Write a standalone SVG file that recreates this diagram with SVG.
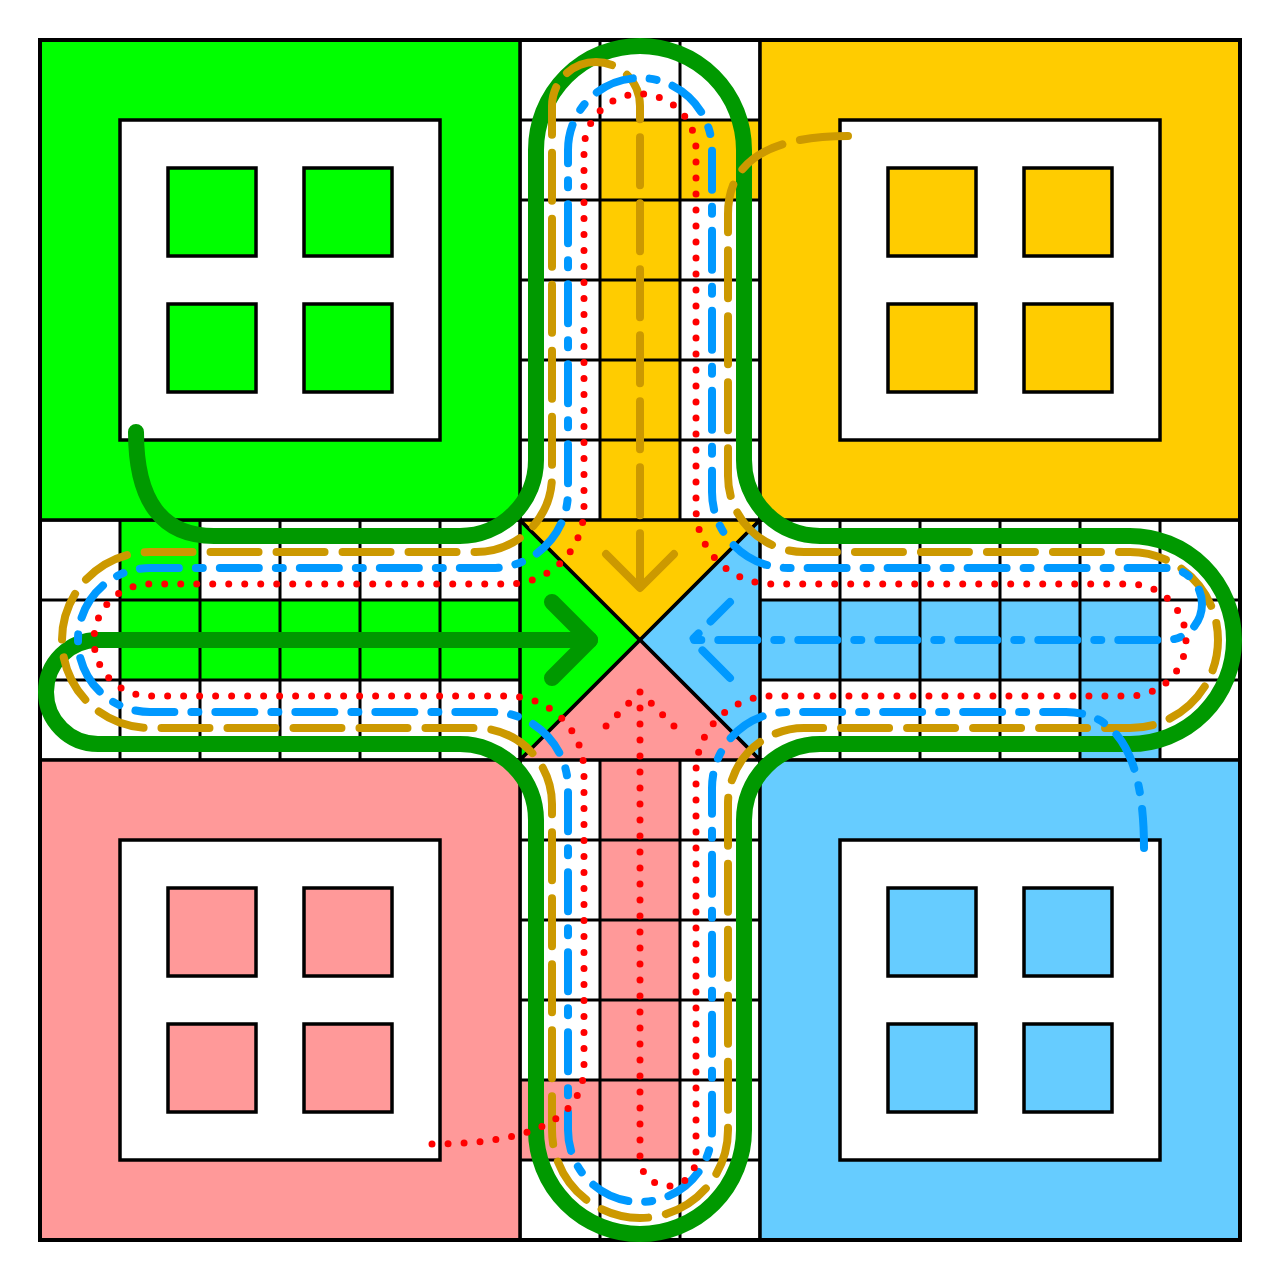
<svg xmlns="http://www.w3.org/2000/svg" width="1280" height="1280" viewBox="0 0 1280 1280">
<style>
.bd{stroke:#000;stroke-width:3.5;stroke-linejoin:miter}
.grid{fill:none;stroke:#000;stroke-width:3}
.g{fill:#00ff00}.y{fill:#ffcc00}.b{fill:#66ccff}.r{fill:#ff9999}.w{fill:#fff}
.p{fill:none;stroke-linecap:round;stroke-linejoin:round}
.pg{stroke:#009900;stroke-width:16}
.py{stroke:#cc9900;stroke-width:8;stroke-dasharray:48 18}
.pb{stroke:#0099ff;stroke-width:8;stroke-dasharray:39 17 7 17}
.pr{stroke:#ff0000;stroke-width:7;stroke-dasharray:0 16}
</style>
<rect x="0" y="0" width="1280" height="1280" fill="#fff"/>
<g id="arms">
<rect class="g" x="120" y="520" width="80" height="80"/>
<rect class="g" x="120" y="600" width="400" height="80"/>
<rect class="y" x="680" y="120" width="80" height="80"/>
<rect class="y" x="600" y="120" width="80" height="400"/>
<rect class="b" x="1080" y="680" width="80" height="80"/>
<rect class="b" x="760" y="600" width="400" height="80"/>
<rect class="r" x="520" y="1080" width="80" height="80"/>
<rect class="r" x="600" y="760" width="80" height="400"/>
<path class="grid" d="M520 40V520M600 40V520M680 40V520M760 40V520M520 120H760M520 200H760M520 280H760M520 360H760M520 440H760
M520 760V1240M600 760V1240M680 760V1240M760 760V1240M520 840H760M520 920H760M520 1000H760M520 1080H760M520 1160H760
M40 520H520M40 600H520M40 680H520M40 760H520M120 520V760M200 520V760M280 520V760M360 520V760M440 520V760
M760 520H1240M760 600H1240M760 680H1240M760 760H1240M840 520V760M920 520V760M1000 520V760M1080 520V760M1160 520V760"/>
</g>
<g id="home-green">
<rect class="g bd" x="40" y="40" width="480" height="480"/>
<rect class="w bd" x="120" y="120" width="320" height="320"/>
<rect class="g bd" x="168" y="168" width="88" height="88"/>
<rect class="g bd" x="304" y="168" width="88" height="88"/>
<rect class="g bd" x="168" y="304" width="88" height="88"/>
<rect class="g bd" x="304" y="304" width="88" height="88"/>
</g>
<g id="home-yellow">
<rect class="y bd" x="760" y="40" width="480" height="480"/>
<rect class="w bd" x="840" y="120" width="320" height="320"/>
<rect class="y bd" x="888" y="168" width="88" height="88"/>
<rect class="y bd" x="1024" y="168" width="88" height="88"/>
<rect class="y bd" x="888" y="304" width="88" height="88"/>
<rect class="y bd" x="1024" y="304" width="88" height="88"/>
</g>
<g id="home-red">
<rect class="r bd" x="40" y="760" width="480" height="480"/>
<rect class="w bd" x="120" y="840" width="320" height="320"/>
<rect class="r bd" x="168" y="888" width="88" height="88"/>
<rect class="r bd" x="304" y="888" width="88" height="88"/>
<rect class="r bd" x="168" y="1024" width="88" height="88"/>
<rect class="r bd" x="304" y="1024" width="88" height="88"/>
</g>
<g id="home-blue">
<rect class="b bd" x="760" y="760" width="480" height="480"/>
<rect class="w bd" x="840" y="840" width="320" height="320"/>
<rect class="b bd" x="888" y="888" width="88" height="88"/>
<rect class="b bd" x="1024" y="888" width="88" height="88"/>
<rect class="b bd" x="888" y="1024" width="88" height="88"/>
<rect class="b bd" x="1024" y="1024" width="88" height="88"/>
</g>
<g id="center">
<polygon class="g bd" points="520,520 640,640 520,760"/>
<polygon class="y bd" points="520,520 760,520 640,640"/>
<polygon class="b bd" points="760,520 760,760 640,640"/>
<polygon class="r bd" points="520,760 640,640 760,760"/>
</g>
<rect x="40" y="40" width="1200" height="1200" fill="none" stroke="#000" stroke-width="4"/>
<g id="connectors">
<g id="path-green">
<path class="p pg" d="M136 432Q136 536 214 536L460 536A76 76 0 0 0 536 460L536 150A104 104 0 0 1 744 150L744 460A76 76 0 0 0 820 536L1130 536A104 104 0 0 1 1130 744L820 744A76 76 0 0 0 744 820L744 1130A104 104 0 0 1 536 1130L536 820A76 76 0 0 0 460 744L98 744A52 52 0 0 1 98 640L590 640"/>
<path class="p pg" d="M590 640L552 602M590 640L552 678"/>
</g>
<g id="path-yellow" transform="rotate(90 640 640)">
<path class="p py" d="M136 432Q136 552 214 552L476 552A76 76 0 0 0 552 476L552 150A88 88 0 0 1 728 150L728 476A76 76 0 0 0 804 552L1130 552A88 88 0 0 1 1130 728L804 728A76 76 0 0 0 728 804L728 1130A88 88 0 0 1 552 1130L552 804A76 76 0 0 0 476 728L106 728A44 44 0 0 1 106 640L588 640"/>
<path class="p py" d="M588 640L552 604M588 640L552 676"/>
</g>
<g id="path-blue" transform="rotate(180 640 640)">
<path class="p pb" d="M136 432Q136 568 214 568L492 568A76 76 0 0 0 568 492L568 150A72 72 0 0 1 712 150L712 492A76 76 0 0 0 788 568L1130 568A72 72 0 0 1 1130 712L788 712A76 76 0 0 0 712 788L712 1130A72 72 0 0 1 568 1130L568 788A76 76 0 0 0 492 712L114 712A36 36 0 0 1 114 640L588 640"/>
<path class="p pb" d="M550 602L588 640L550 678"/>
</g>
<g id="path-red" transform="rotate(270 640 640)">
<path class="p pr" d="M136 432Q136 584 214 584L508 584A76 76 0 0 0 584 508L584 150A56 56 0 0 1 696 150L696 508A76 76 0 0 0 772 584L1130 584A56 56 0 0 1 1130 696L772 696A76 76 0 0 0 696 772L696 1130A56 56 0 0 1 584 1130L584 772A76 76 0 0 0 508 696L122 696A28 28 0 0 1 122 640L588 640"/>
<path class="p pr" d="M588 640L550 602M588 640L550 678"/>
</g>
</g>
</svg>
